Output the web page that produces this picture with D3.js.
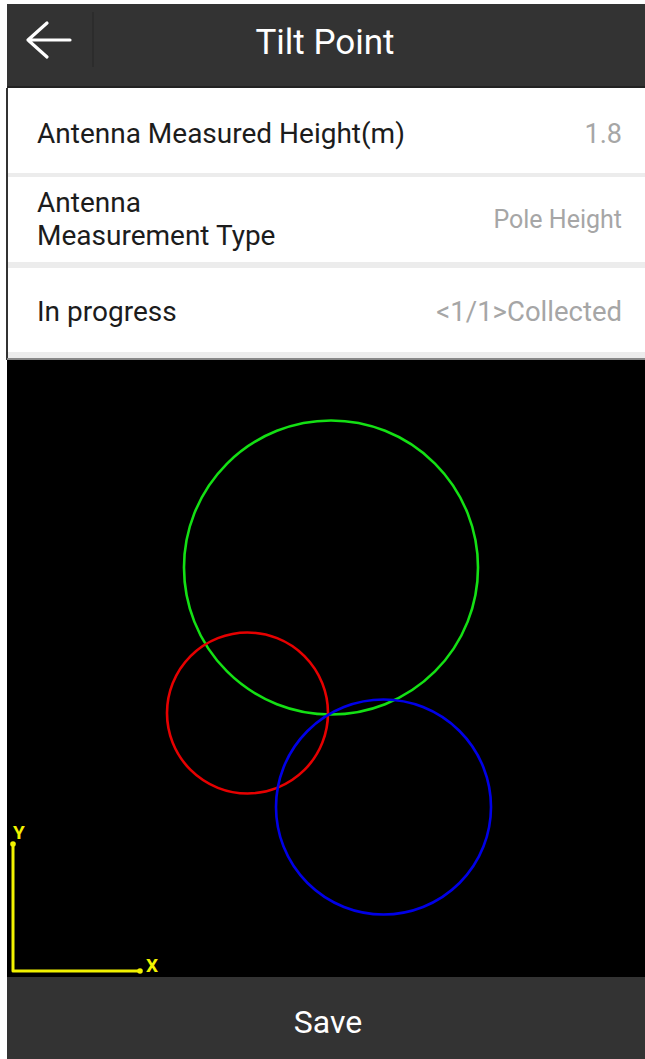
<!DOCTYPE html>
<html>
<script src='https://d3js.org/d3.v7.min.js'></script>
<style>
body {margin: 0; background: #fff;}
text {font-family: Roboto, 'Noto Sans', sans-serif;}
</style>
<body onload='init()'>
<script>
// settings rows
var rowLabels = [['Antenna Measured Height(m)'], ['Antenna', 'Measurement Type'], ['In progress']];
var rowValues = ['1.8', 'Pole Height', '<1/1>Collected'];

// tilt circles, in plane units (origin at the axis corner)
var circleNames = ['green', 'red', 'blue'];
var circleX = [318, 234.5, 370.5];
var circleY = [403.5, 258, 164];
var circleR = [147, 80.5, 107.5];
var axisNames = ['X', 'Y'];
var axisLength = 127;

function init() {

var W = 645, H = 1059;
var svg = d3.select('body').append('svg').attr('width', W).attr('height', H);

// header bar
svg.append('rect').attr('x', 7).attr('y', 4).attr('width', W - 7).attr('height', 82).attr('fill', '#333333');
svg.append('rect').attr('x', 7).attr('y', 86).attr('width', W - 7).attr('height', 2).attr('fill', '#222');
svg.append('line').attr('x1', 93).attr('x2', 93).attr('y1', 12).attr('y2', 67)
  .attr('stroke', '#2b2b2b').attr('stroke-width', 1.5);
svg.append('path').attr('d', 'M70,40 H28 M47,23 L28,40 L47,57')
  .attr('fill', 'none').attr('stroke', '#fff').attr('stroke-width', 3.2)
  .attr('stroke-linecap', 'round').attr('stroke-linejoin', 'round');
svg.append('text').attr('x', 325).attr('y', 54).attr('text-anchor', 'middle')
  .attr('fill', '#fff').style('font-size', '35px').text('Tilt Point');

// rows
svg.append('rect').attr('x', 6).attr('y', 88).attr('width', 2).attr('height', 272).attr('fill', '#333');
var rowTop = [88, 177, 268];
var rowBottom = [173, 262, 352];
var labelBase = [[143], [212, 245], [321]];
var valueBase = [143, 228, 321];
var valueSize = [27, 25, 27.5];

var rows = svg.selectAll('g.row').data(rowValues).enter().append('g').attr('class', 'row');
rows.append('rect').attr('x', 8).attr('y', function(d, i){return rowTop[i];})
  .attr('width', W - 8).attr('height', function(d, i){return rowBottom[i] - rowTop[i];})
  .attr('fill', '#fff');
rows.append('rect').attr('x', 8).attr('y', function(d, i){return rowBottom[i];})
  .attr('width', W - 8).attr('height', function(d, i){return i == 0 ? 4 : 6;})
  .attr('fill', '#ececec');
rows.each(function(d, i) {
  var g = d3.select(this);
  rowLabels[i].forEach(function(t, j) {
    g.append('text').attr('x', 37).attr('y', labelBase[i][j])
      .attr('fill', '#1c1c1c').style('font-size', '28px').text(t);
  });
  g.append('text').attr('x', 622).attr('y', valueBase[i]).attr('text-anchor', 'end')
    .attr('fill', '#a6a6a6').style('font-size', valueSize[i] + 'px').text(d);
});
svg.append('rect').attr('x', 7).attr('y', 358).attr('width', W - 7).attr('height', 2).attr('fill', '#888');

// plot area
svg.append('rect').attr('x', 7).attr('y', 360).attr('width', W - 7).attr('height', 617).attr('fill', '#000');

var x = d3.scaleLinear().domain([0, 632]).range([13, 645]);
var y = d3.scaleLinear().domain([0, 610]).range([971, 361]);
var color = d3.scaleOrdinal().domain(circleNames).range(['#14e014', '#e60000', '#0000e6']);

svg.append('g').selectAll('circle')
  .data(circleNames)
  .enter()
  .append('circle')
  .attr('cx', function(d, i){return x(circleX[i]);})
  .attr('cy', function(d, i){return y(circleY[i]);})
  .attr('r', function(d, i){return x(circleR[i]) - x(0);})
  .attr('fill', 'none')
  .attr('stroke', function(d){return color(d);})
  .attr('stroke-width', 2.6);

// axes indicator
var yellow = '#f2f200';
var ax = svg.append('g');
ax.append('path')
  .attr('d', 'M' + x(0) + ',' + y(axisLength) + ' V' + y(0) + ' H' + x(axisLength))
  .attr('fill', 'none').attr('stroke', yellow).attr('stroke-width', 3)
  .attr('stroke-linejoin', 'round');
ax.selectAll('circle').data(axisNames).enter().append('circle')
  .attr('cx', function(d){return d == 'X' ? x(axisLength) : x(0);})
  .attr('cy', function(d){return d == 'X' ? y(0) : y(axisLength);})
  .attr('r', 2.8).attr('fill', yellow);
ax.selectAll('text').data(axisNames).enter().append('text')
  .attr('x', function(d){return d == 'X' ? x(axisLength) + 6 : x(0);})
  .attr('y', function(d){return d == 'X' ? y(0) + 1 : y(axisLength) - 5;})
  .attr('fill', yellow).style('font-size', '19px').style('font-weight', 'bold')
  .text(function(d){return d;});

// save bar
svg.append('rect').attr('x', 7).attr('y', 977).attr('width', W - 7).attr('height', H - 977).attr('fill', '#333333');
svg.append('text').attr('x', 328).attr('y', 1033).attr('text-anchor', 'middle')
  .attr('fill', '#fff').style('font-size', '32px').text('Save');

}
</script>
</body>
</html>
